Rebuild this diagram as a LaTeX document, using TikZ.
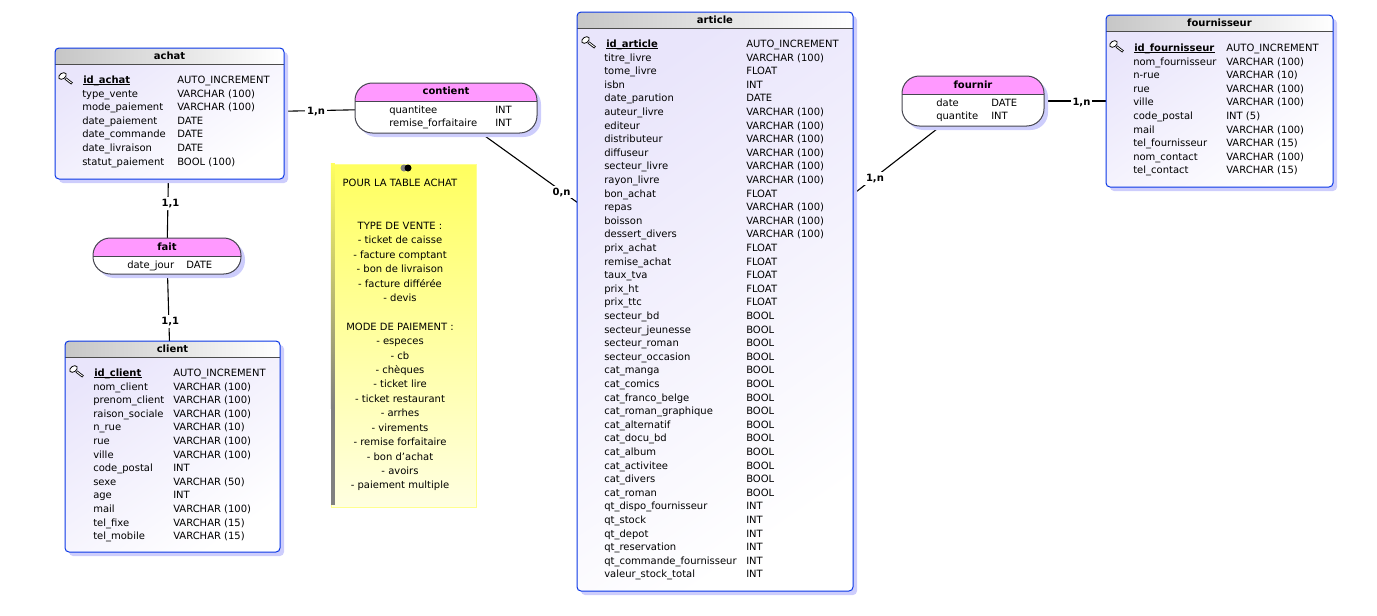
\documentclass[tikz,border=0pt]{standalone}
\usepackage{fontspec}
\setmainfont{DejaVu Sans}
\usetikzlibrary{shadows,backgrounds,calc}

\def\px{0.75pt}
\definecolor{tableblue}{RGB}{10,55,230}
\definecolor{shadowblue}{RGB}{205,205,252}
\definecolor{bodylav}{RGB}{233,229,251}
\definecolor{headgray}{RGB}{198,198,198}
\definecolor{relpink}{RGB}{255,153,255}
\definecolor{relline}{RGB}{70,70,80}
\definecolor{noteyellow}{RGB}{255,255,95}
\definecolor{notepale}{RGB}{255,255,225}

\tikzset{
  every node/.style={font=\fontsize{7.5}{9}\selectfont, inner sep=0pt, text=black},
  tablebox/.style={rectangle, draw=tableblue, line width=\px, rounded corners=3pt,
    top color=bodylav, bottom color=white, shading angle=35,
    drop shadow={shadow xshift=4*\px, shadow yshift=-4*\px, fill=shadowblue, opacity=1},
    path picture={
      \fill[sharp corners, left color=headgray, right color=white] (path picture bounding box.north west)
        rectangle ([yshift=-16*\px]path picture bounding box.north east);
      \draw[sharp corners, black!70, line width=\px] ([yshift=-16*\px]path picture bounding box.north west)
        -- ([yshift=-16*\px]path picture bounding box.north east);
    }},
  relbox/.style={rectangle, draw=relline, line width=\px, rounded corners=13pt, fill=white,
    drop shadow={shadow xshift=4*\px, shadow yshift=-4*\px, fill=shadowblue, opacity=1},
    path picture={
      \fill[sharp corners, relpink] (path picture bounding box.north west)
        rectangle ([yshift=-18*\px]path picture bounding box.north east);
      \draw[sharp corners, relline, line width=\px] ([yshift=-18*\px]path picture bounding box.north west)
        -- ([yshift=-18*\px]path picture bounding box.north east);
    }},
  titlelabel/.style={font=\fontsize{7.5}{9}\selectfont\bfseries},
  fieldtext/.style={anchor=base west},
  link/.style={black, line width=1.1*\px},
  card/.style={fill=white, inner sep=1.5pt, font=\fontsize{7.5}{9}\selectfont\bfseries},
}

% one line per field: table, name column, type column, first y, list
\newcommand{\fieldrows}[5]{
  \foreach \fname/\ftype [count=\i from 1] in {#5} {
    \node[fieldtext] (#1-name\i) at (#2, {#4+3.6+13.6*\i}) {\fname};
    \node[fieldtext] (#1-type\i) at (#3, {#4+3.6+13.6*\i}) {\ftype};
  }
}
% primary key line with its little key
\newcommand{\keyrow}[6]{
  \draw[black, line width=0.8*\px, fill=white, rotate around={35:(#2-20.5,#5-3.5)}]
    (#2-20.5,#5-3.5) ellipse [x radius=4.2, y radius=2.8];
  \draw[black, line width=2.6*\px] (#2-17.5,#5-1) -- (#2-11,#5+4);
  \draw[white, line width=0.9*\px] (#2-17,#5-0.7) -- (#2-11.5,#5+3.6);
  \node[fieldtext] (#1-key) at (#2,#5+3.8) {\textbf{#4}};
  \draw[black, line width=1.1*\px] ([yshift=-1.2*\px]#1-key.base west) -- ([yshift=-1.2*\px]#1-key.base east);
  \node[fieldtext] (#1-keytype) at (#3,#5+3.8) {#6};
}

\begin{document}
\begin{tikzpicture}[x=0.75pt, y=-0.75pt]
  \useasboundingbox (0,0) rectangle (1377,615);

  % tables
  \node[tablebox, minimum width=229*\px, minimum height=131*\px] (achat) at (169.5,113.5) {};
  \node[tablebox, minimum width=215*\px, minimum height=211*\px] (client) at (172.5,446.5) {};
  \node[tablebox, minimum width=276*\px, minimum height=579*\px] (article) at (715,301.5) {};
  \node[tablebox, minimum width=227*\px, minimum height=172*\px] (fournisseur) at (1219.5,101) {};

  % associations
  \node[relbox, minimum width=182*\px, minimum height=50*\px] (contient) at (446,108) {};
  \node[relbox, minimum width=148*\px, minimum height=36*\px] (fait) at (167,256) {};
  \node[relbox, minimum width=142*\px, minimum height=50*\px] (fournir) at (973,101) {};

  % links go under the boxes and their shadows
  \begin{pgfonlayer}{background}
    \draw[link] (achat.center) -- node[card, pos=0.53, yshift=-0.6pt] (card1) {1,n} (contient.center);
    \draw[link] (contient.center) -- node[card, pos=0.43, yshift=-0.6pt] (card2) {0,n} (article.center);
    \draw[link] (fournir.center) -- node[card, pos=0.38, yshift=-0.8pt] (card3) {1,n} (article.center);
    \draw[link] (fournir.center) -- node[card, pos=0.44, yshift=-0.8pt] (card4) {1,n} (fournisseur.center);
    \draw[link] (achat.center) -- node[card, pos=0.63, xshift=2pt] (card5) {1,1} (fait.center);
    \draw[link] (fait.center) -- node[card, pos=0.342, xshift=1pt] (card6) {1,1} (client.center);
  \end{pgfonlayer}

  % titles
  \node[titlelabel] (achat-title) at (169.5,56) {achat};
  \node[titlelabel] (client-title) at (172.5,349) {client};
  \node[titlelabel] (article-title) at (715,20) {article};
  \node[titlelabel] (fournisseur-title) at (1219.5,23) {fournisseur};
  \node[titlelabel] (contient-title) at (446,91) {contient};
  \node[titlelabel] (fait-title) at (167,246.5) {fait};
  \node[titlelabel] (fournir-title) at (973,84.5) {fournir};

  % fields
  \keyrow{achat}{83}{177}{id\_achat}{79.5}{AUTO\_INCREMENT}
  \fieldrows{achat}{82}{177}{79.8}{type\_vente/VARCHAR (100), mode\_paiement/VARCHAR (100),
    date\_paiement/DATE, date\_commande/DATE, date\_livraison/DATE, statut\_paiement/BOOL (100)}

  \keyrow{client}{94}{173}{id\_client}{372.5}{AUTO\_INCREMENT}
  \fieldrows{client}{93}{173}{372.8}{nom\_client/VARCHAR (100), prenom\_client/VARCHAR (100),
    raison\_sociale/VARCHAR (100), n\_rue/VARCHAR (10), rue/VARCHAR (100), ville/VARCHAR (100),
    code\_postal/INT, sexe/VARCHAR (50), age/INT, mail/VARCHAR (100), tel\_fixe/VARCHAR (15),
    tel\_mobile/VARCHAR (15)}

  \keyrow{article}{606}{746}{id\_article}{43.5}{AUTO\_INCREMENT}
  \fieldrows{article}{604}{746}{43.8}{titre\_livre/VARCHAR (100), tome\_livre/FLOAT, isbn/INT,
    date\_parution/DATE, auteur\_livre/VARCHAR (100), editeur/VARCHAR (100),
    distributeur/VARCHAR (100), diffuseur/VARCHAR (100), secteur\_livre/VARCHAR (100),
    rayon\_livre/VARCHAR (100), bon\_achat/FLOAT, repas/VARCHAR (100), boisson/VARCHAR (100),
    dessert\_divers/VARCHAR (100), prix\_achat/FLOAT, remise\_achat/FLOAT, taux\_tva/FLOAT,
    prix\_ht/FLOAT, prix\_ttc/FLOAT, secteur\_bd/BOOL, secteur\_jeunesse/BOOL,
    secteur\_roman/BOOL, secteur\_occasion/BOOL, cat\_manga/BOOL, cat\_comics/BOOL,
    cat\_franco\_belge/BOOL, cat\_roman\_graphique/BOOL, cat\_alternatif/BOOL, cat\_docu\_bd/BOOL,
    cat\_album/BOOL, cat\_activitee/BOOL, cat\_divers/BOOL, cat\_roman/BOOL,
    qt\_dispo\_fournisseur/INT, qt\_stock/INT, qt\_depot/INT, qt\_reservation/INT,
    qt\_commande\_fournisseur/INT, valeur\_stock\_total/INT}

  \keyrow{fournisseur}{1134}{1226}{id\_fournisseur}{47.5}{AUTO\_INCREMENT}
  \fieldrows{fournisseur}{1133}{1226}{47.8}{nom\_fournisseur/VARCHAR (100), n-rue/VARCHAR (10),
    rue/VARCHAR (100), ville/VARCHAR (100), code\_postal/INT (5), mail/VARCHAR (100),
    tel\_fournisseur/VARCHAR (15), nom\_contact/VARCHAR (100), tel\_contact/VARCHAR (15)}

  \fieldrows{contient}{389}{495}{96}{quantitee/INT, remise\_forfaitaire/INT}
  \fieldrows{fait}{127}{186}{251.4}{date\_jour/DATE}
  \fieldrows{fournir}{936}{991}{89}{date/DATE, quantite/INT}

  % note
  \node[rectangle, minimum width=145*\px, minimum height=343*\px, top color=noteyellow,
    bottom color=notepale, draw=noteyellow!70!white, line width=0.5*\px] (note) at (403.5,335.5) {};
  \fill[top color=noteyellow, bottom color=gray]
    (note.north west) rectangle ([xshift=4*\px, yshift=-245*\px]note.north west);
  \fill[gray] ([yshift=-245*\px]note.north west) rectangle ([xshift=4*\px, yshift=2*\px]note.south west);
  \node[align=center, anchor=north, font=\fontsize{7.5}{10.8}\selectfont] (notetext) at (400,178.7) {%
    POUR LA TABLE ACHAT\\ ~\\ ~\\ TYPE DE VENTE :\\ - ticket de caisse\\ - facture comptant\\
    - bon de livraison\\ - facture différée\\ - devis\\ ~\\ MODE DE PAIEMENT :\\ - especes\\ - cb\\
    - chèques\\ - ticket lire\\ - ticket restaurant\\ - arrhes\\ - virements\\
    - remise forfaitaire\\ - bon d\symbol{39}achat\\ - avoirs\\ - paiement multiple};
  \fill[gray] (404,168) circle [radius=3.5];
  \fill[black] (408,168) circle [radius=3.5];
\end{tikzpicture}
\end{document}
